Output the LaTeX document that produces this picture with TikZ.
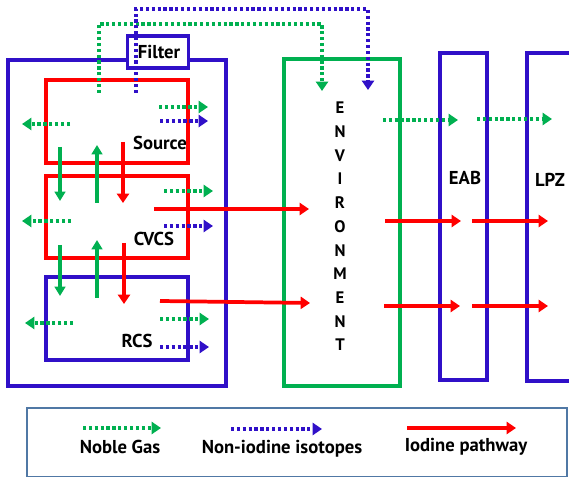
\documentclass[tikz,border=0pt]{standalone}
\usepackage{fontspec}
\setmainfont{PT Sans}
\usetikzlibrary{arrows.meta}
\definecolor{cblue}{RGB}{48,16,200}
\definecolor{cgreen}{RGB}{0,176,80}
\definecolor{cred}{RGB}{255,0,0}
\definecolor{cframe}{RGB}{80,120,165}
\tikzset{
  box/.style={line width=2.4pt},
  dotarrow/.style={line width=2.4pt, dash pattern=on 2.4pt off 2pt, -{Triangle[length=7pt,width=9pt]}},
  dotline/.style={line width=2.4pt, dash pattern=on 2.4pt off 2pt},
  solarrow/.style={line width=2.4pt, -{Triangle[length=7pt,width=8pt]}},
  redarrow/.style={line width=2.8pt, cred, -{Triangle[length=7pt,width=9pt]}},
  lbl/.style={font=\fontsize{14}{16}\selectfont\bfseries, inner sep=0pt},
  envl/.style={font=\fontsize{12.5}{14}\selectfont\bfseries, inner sep=0pt},
}
\begin{document}
\begin{tikzpicture}[x=0.75pt,y=-0.75pt]
\useasboundingbox (0,0) rectangle (569,477);
% boxes
\draw[box,cblue] (8,60) rectangle (226,386);
\draw[box,cred] (46,80) rectangle (188,163);
\draw[box,cred] (46,176) rectangle (188,258);
\draw[box,cblue] (46,277) rectangle (188,360);
\draw[box,cgreen] (284,59) rectangle (400,386);
\draw[box,cblue] (440,53) rectangle (487,380);
\draw[box,cblue] (572,53) -- (527,53) -- (527,381) -- (572,381);
\node[box,draw=cblue,fill=white,minimum width=61*0.75pt,minimum height=32*0.75pt,inner sep=0pt] (filter) at (158,52) {};
\node[lbl] (filtert) at (159,52) {Filter};
% labels
\node[lbl] (src) at (160,143) {Source};
\node[lbl] (cvcs) at (154,239) {CVCS};
\node[lbl] (rcs) at (137,341) {RCS};
\node[lbl] (eab) at (465,178) {EAB};
\node[lbl] (lpz) at (550,180) {LPZ};
\foreach \l [count=\i] in {E,N,V,I,R,O,N,M,E,N,T}
  \node[envl] (env\i) at (340,{108+23.7*(\i-1)}) {\l};
% filter routes
\coordinate (g0) at (99,93); \coordinate (g1) at (99,24); \coordinate (g2) at (322,24); \coordinate (g3) at (322,91);
\coordinate (b0) at (136,93); \coordinate (b1) at (136,9); \coordinate (b2) at (368,9); \coordinate (b3) at (368,90);
\draw[dotarrow,cgreen] (g0) -- (g1) -- (g2) -- (g3);
\draw[dotarrow,cblue] (b0) -- (b1) -- (b2) -- (b3);
% Source
\draw[dotarrow,cgreen] (159,107) -- (208,107);
\draw[dotarrow,cblue] (160,121) -- (208,121);
\draw[dotarrow,cgreen] (70,124) -- (22,124);
\draw[solarrow,cgreen] (60,147) -- (60,201);
\draw[solarrow,cgreen] (97,203) -- (97,145);
\draw[redarrow] (123,142) -- (123,203);
% CVCS
\draw[dotarrow,cgreen] (164,191) -- (213,191);
\draw[dotarrow,cgreen] (71,221) -- (22,221);
\draw[dotarrow,cblue] (164,226) -- (213,226);
\draw[redarrow] (154,209) -- (309,209);
\draw[solarrow,cgreen] (60,245) -- (60,296);
\draw[solarrow,cgreen] (97,298) -- (97,240);
\draw[redarrow] (124,243) -- (124,304);
% RCS
\draw[redarrow] (160,301) -- (310,303);
\draw[dotarrow,cgreen] (160,319) -- (209,319);
\draw[dotarrow,cgreen] (73,323) -- (25,323);
\draw[dotarrow,cblue] (160,347) -- (209,347);
% Environment outward
\draw[dotarrow,cgreen] (383,120) -- (458,120);
\draw[dotarrow,cgreen] (477,119) -- (552,119);
\draw[redarrow] (385,221) -- (461,221);
\draw[redarrow] (472,221) -- (548,221);
\draw[redarrow] (384,306) -- (460,306);
\draw[redarrow] (472,306) -- (548,306);
% legend
\draw[line width=1.2pt,cframe] (27,408) rectangle (567,477);
\draw[dotarrow,cgreen] (83,428) -- (161,428);
\draw[dotarrow,cblue] (231,429) -- (322,429);
\draw[redarrow] (407,428) -- (516,428);
\node[lbl] (lg1) at (120,447) {Noble Gas};
\node[lbl] (lg2) at (282,449) {Non-iodine isotopes};
\node[lbl] (lg3) at (466,447) {Iodine pathway};
\end{tikzpicture}
\end{document}
